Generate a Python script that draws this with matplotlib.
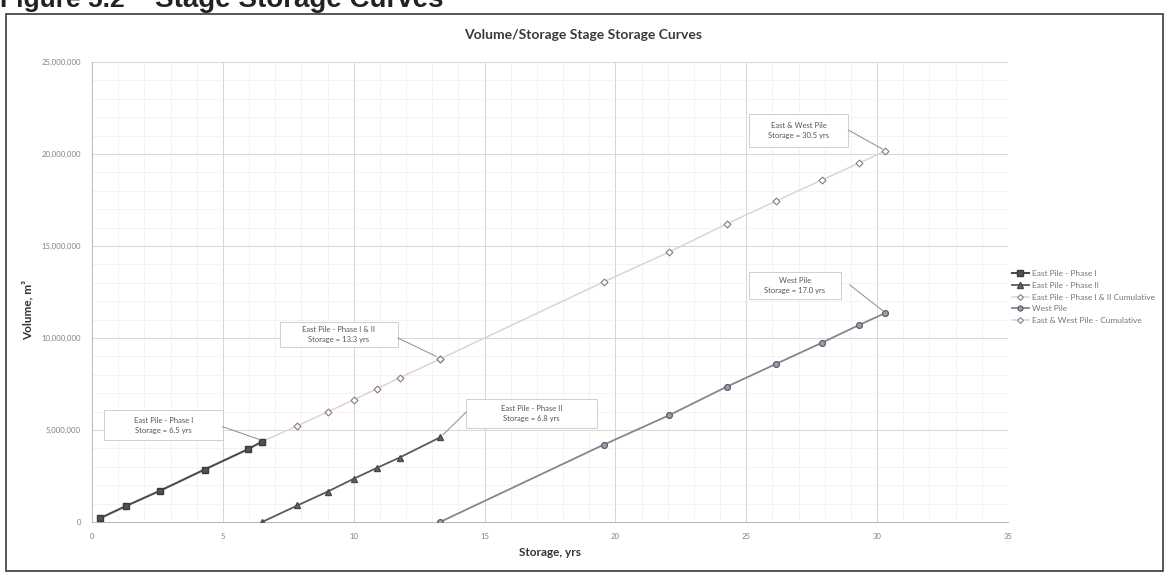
import matplotlib
matplotlib.use("Agg")
import matplotlib.pyplot as plt
from matplotlib.patches import Rectangle
from matplotlib.ticker import FuncFormatter, MultipleLocator

# Stage storage curves - storage (yrs) vs volume (m3)

phase1_yrs = [0.3, 1.3, 2.6, 4.3, 5.95, 6.5]
phase1_vol = [0.2e6, 0.87e6, 1.7e6, 2.85e6, 3.95e6, 4.37e6]

phase2_yrs = [6.5, 7.85, 9.0, 10.0, 10.9, 11.75, 13.3]
phase2_vol = [0, 0.9e6, 1.65e6, 2.35e6, 2.95e6, 3.5e6, 4.6e6]

cum12_yrs = [6.5, 7.85, 9.0, 10.0, 10.9, 11.75, 13.3]
cum12_vol = [4.37e6, 5.23e6, 5.98e6, 6.64e6, 7.25e6, 7.83e6, 8.86e6]

west_yrs = [13.3, 19.55, 22.05, 24.25, 26.15, 27.9, 29.3, 30.3]
west_vol = [0, 4.2e6, 5.8e6, 7.35e6, 8.6e6, 9.75e6, 10.7e6, 11.35e6]

cumew_yrs = [13.3, 19.55, 22.05, 24.25, 26.15, 27.9, 29.3, 30.3]
cumew_vol = [8.86e6, 13.05e6, 14.67e6, 16.2e6, 17.45e6, 18.6e6, 19.5e6, 20.16e6]

series_labels = ["East Pile - Phase I", "East Pile - Phase II",
                 "East Pile - Phase I & II Cumulative", "West Pile",
                 "East & West Pile - Cumulative"]

callout_texts = ["East Pile - Phase I\nStorage = 6.5 yrs",
                 "East Pile - Phase II\nStorage = 6.8 yrs",
                 "East Pile - Phase I & II\nStorage = 13.3 yrs",
                 "East & West Pile\nStorage = 30.5 yrs",
                 "West Pile\nStorage = 17.0 yrs"]

plt.rcParams['font.family'] = ['Lato', 'DejaVu Sans']

W, H = 1167, 577
fig = plt.figure(figsize=(W / 100, H / 100), dpi=100)

# page header, only its lower half is on the scan
fig.text(0 / W, 1 - 7 / H, "Figure 5.2", fontsize=19, fontweight='bold',
         family='Liberation Sans', color='#222222', va='baseline', ha='left')
fig.text(155 / W, 1 - 7 / H, "Stage Storage Curves", fontsize=20, fontweight='bold',
         family='Liberation Sans', color='#222222', va='baseline', ha='left')

# chart frame
fig.patches.append(Rectangle((6 / W, 1 - 571 / H), 1157 / W, 557 / H,
                             transform=fig.transFigure, fill=False,
                             ec='#3a3a3a', lw=1.2))

ax = fig.add_axes([92 / W, 1 - 522 / H, 916 / W, 460 / H])

ax.plot(phase1_yrs, phase1_vol, color='#4f4a4e', lw=1.5, marker='s', ms=4.5,
        mfc='#555055', mec='#3a3a3a', label=series_labels[0], zorder=5)
ax.plot(phase2_yrs, phase2_vol, color='#5e5862', lw=1.3, marker='^', ms=4.5,
        mfc='#6a6470', mec='#4a4550', label=series_labels[1], zorder=5)
ax.plot(cum12_yrs, cum12_vol, color='#e6cfd5', lw=1.1, marker='D', ms=3.5,
        mfc='white', mec='#857a88', mew=0.8, label=series_labels[2], zorder=4)
ax.plot(west_yrs, west_vol, color='#8f8093', lw=1.3, marker='o', ms=4.2,
        mfc='#a39ca8', mec='#615a68', mew=0.9, label=series_labels[3], zorder=5)
ax.plot(cumew_yrs, cumew_vol, color='#e3d0d6', lw=1.1, marker='D', ms=3.5,
        mfc='white', mec='#857a88', mew=0.8, label=series_labels[4], zorder=4)

ax.set_xlim(0, 35)
ax.set_ylim(0, 25e6)
ax.xaxis.set_major_locator(MultipleLocator(5))
ax.xaxis.set_minor_locator(MultipleLocator(1))
ax.yaxis.set_major_locator(MultipleLocator(5e6))
ax.yaxis.set_minor_locator(MultipleLocator(1e6))
ax.yaxis.set_major_formatter(FuncFormatter(lambda v, p: f"{v:,.0f}"))
ax.grid(which='major', color='#d6d6d6', lw=0.7)
ax.grid(which='minor', color='#eeeeee', lw=0.5)
ax.set_axisbelow(True)
for s in ['top', 'right']:
    ax.spines[s].set_visible(False)
for s in ['left', 'bottom']:
    ax.spines[s].set_color('#bdbdbd')
    ax.spines[s].set_linewidth(0.8)
ax.tick_params(which='both', length=0, labelsize=5.6, labelcolor='#808080')
ax.tick_params(axis='y', pad=8)
ax.tick_params(axis='x', pad=8)

ax.set_xlabel("Storage, yrs", fontsize=8.5, fontweight='bold', color='#333333')
ax.xaxis.set_label_coords(0.5, -0.055)
ax.set_ylabel("Volume, m³", fontsize=8.5, fontweight='bold', color='#333333')
ax.yaxis.set_label_coords(-0.064, 0.46)

fig.text(583 / W, 1 - 35 / H, "Volume/Storage Stage Storage Curves", fontsize=10,
         fontweight='bold', color='#3a3a3a', ha='center', va='center')

# callout boxes: (x0, x1, y0, y1) box, then leader line start and end
boxes = [(0.47, 4.99, 4.43e6, 6.07e6),
         (14.3, 19.3, 5.12e6, 6.7e6),
         (7.18, 11.69, 9.51e6, 10.87e6),
         (25.1, 28.9, 20.4e6, 22.2e6),
         (25.1, 28.6, 12.1e6, 13.6e6)]
leaders = [((4.99, 5.18e6), (6.42, 4.47e6)),
           ((14.3, 5.98e6), (13.42, 4.75e6)),
           ((11.69, 10.0e6), (13.15, 9.0e6)),
           ((28.9, 21.3e6), (30.2, 20.27e6)),
           ((28.96, 12.88e6), (30.2, 11.5e6))]
for txt, (x0, x1, y0, y1), (p0, p1) in zip(callout_texts, boxes, leaders):
    ax.add_patch(Rectangle((x0, y0), x1 - x0, y1 - y0, fc='white',
                           ec='#cfcfcf', lw=0.7, zorder=6))
    ax.text((x0 + x1) / 2, (y0 + y1) / 2, txt, fontsize=5.5, color='#555555',
            ha='center', va='center', linespacing=1.5, zorder=7)
    ax.plot([p0[0], p1[0]], [p0[1], p1[1]], color='#8c8c8c', lw=0.7, zorder=6)

handles, labels = ax.get_legend_handles_labels()
fig.legend(handles, labels, loc='center left',
           bbox_to_anchor=(1010 / W, 1 - 297 / H), frameon=False,
           fontsize=6, labelcolor='#767676', handlelength=2.1,
           labelspacing=0.55, handletextpad=0.3, markerscale=0.85,
           borderaxespad=0, borderpad=0.2)

fig.savefig("out.png", dpi=100)
